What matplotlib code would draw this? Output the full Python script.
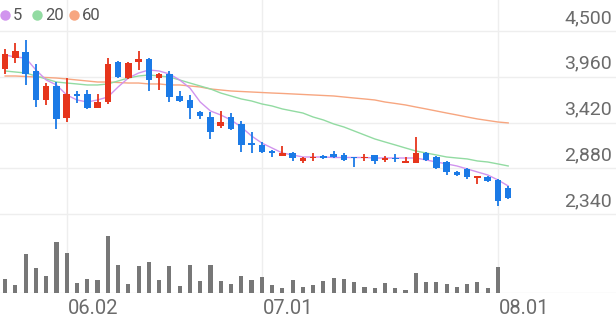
import matplotlib
matplotlib.use("Agg")
import matplotlib.pyplot as plt
import matplotlib.transforms as mtransforms
from matplotlib.lines import Line2D

plt.rcParams['font.family'] = ['Roboto', 'DejaVu Sans']

# ---------------- data ----------------
opens = [4052, 4181, 4252, 4028, 3686, 3851, 3473, 3757, 3757, 3591,
         3662, 4134, 3945, 4134, 4170, 3945, 3993, 3733, 3686, 3544,
         3485, 3379, 3485, 3403, 3178, 3155, 3084, 3025, 3060, 2966,
         3001, 3025, 3049, 3037, 3013, 3001, 3037, 2978, 3001, 2942,
         2942, 3060, 3013, 2954, 2836, 2872, 2765, 2777, 2742, 2647]
highs = [4288, 4358, 4394, 4111, 3886, 3898, 3945, 3792, 3804, 3757,
         4181, 4146, 4134, 4264, 4181, 4004, 4028, 3792, 3745, 3556,
         3544, 3556, 3532, 3438, 3308, 3190, 3096, 3143, 3072, 3013,
         3060, 3037, 3084, 3060, 3013, 3049, 3037, 3025, 3049, 3013,
         3249, 3072, 3025, 2966, 2848, 2883, 2789, 2789, 2754, 2671]
lows = [3993, 4122, 3863, 3603, 3627, 3344, 3426, 3650, 3580, 3591,
        3639, 3945, 3933, 4040, 3792, 3804, 3662, 3662, 3462, 3462,
        3226, 3355, 3332, 3072, 3060, 3060, 3013, 3025, 2966, 2942,
        2966, 2990, 3001, 2966, 2895, 2966, 2931, 2954, 2954, 2942,
        2942, 2966, 2872, 2801, 2789, 2754, 2695, 2718, 2435, 2517]
closes = [4229, 4264, 3993, 3686, 3851, 3462, 3757, 3733, 3591, 3662,
          4111, 3957, 4122, 4170, 3922, 3993, 3721, 3674, 3591, 3497,
          3308, 3426, 3344, 3155, 3160, 3072, 3060, 3060, 3001, 3001,
          3013, 3001, 3013, 2978, 3001, 3013, 2966, 3001, 2984, 2966,
          3060, 2978, 2883, 2836, 2801, 2777, 2789, 2730, 2494, 2529]
ma5 = [4217, 4193, 4181, 4040, 3922, 3863, 3745, 3686, 3662, 3686,
       3721, 3839, 3945, 4004, 4040, 4028, 3993, 3922, 3827, 3662,
       3556, 3509, 3450, 3367, 3261, 3178, 3119, 3060, 3037, 3013,
       3013, 3013, 3007, 3007, 3007, 3007, 3001, 3001, 3001, 3001,
       3001, 2978, 2954, 2931, 2907, 2872, 2836, 2801, 2742, 2671]
ma20 = [4028, 4016, 4004, 3969, 3934, 3898, 3886, 3875, 3863, 3863,
        3875, 3910, 3945, 3969, 3981, 3969, 3957, 3922, 3886, 3851,
        3816, 3768, 3733, 3698, 3674, 3639, 3615, 3580, 3556, 3532,
        3485, 3450, 3403, 3367, 3320, 3273, 3226, 3190, 3155, 3119,
        3084, 3060, 3037, 3013, 3001, 2990, 2966, 2954, 2931, 2907]
ma60 = [3969, 3969, 3963, 3957, 3951, 3945, 3934, 3922, 3910, 3898,
        3898, 3892, 3886, 3886, 3875, 3875, 3863, 3863, 3851, 3839,
        3816, 3804, 3792, 3786, 3780, 3774, 3768, 3763, 3757, 3751,
        3745, 3739, 3733, 3721, 3709, 3698, 3686, 3662, 3645, 3627,
        3603, 3580, 3556, 3532, 3509, 3485, 3462, 3444, 3426, 3415]
volumes = [140000, 83000, 390000, 250000, 173000, 510000, 400000, 100000, 143000, 133000,
           573000, 283000, 93000, 266000, 310000, 133000, 266000, 73000, 276000, 123000,
           276000, 116000, 93000, 166000, 126000, 160000, 80000, 50000, 126000, 60000,
           83000, 116000, 150000, 143000, 106000, 56000, 50000, 100000, 50000, 33000,
           200000, 106000, 106000, 93000, 60000, 93000, 113000, 46000, 260000, 0]
date_tick_idx = [6, 25, 48]
date_labels = ['06.02', '07.01', '08.01']
price_ticks = [2340, 2880, 3420, 3960, 4500]
price_labels = ['2,340', '2,880', '3,420', '3,960', '4,500']
legend_labels = ['5', '20', '60']

# ---------------- style ----------------
RED = '#e6351c'
BLUE = '#1b7ae6'
C_MA = ['#d194ee', '#92dba2', '#f7a680']
GRID = '#eeeeee'
TXT = '#6b6b6b'

W, H = 616, 321
fig = plt.figure(figsize=(W / 100, H / 100), dpi=100)
ax = fig.add_axes([0, (H - 214) / H, 1, 214 / H])
axv = fig.add_axes([0, (H - 293) / H, 1, 79 / H])

n = len(closes)
xs = list(range(n))
XMIN, XMAX = -0.5, 59.5

for a in (ax, axv):
    a.set_xlim(XMIN, XMAX)
    for s in a.spines.values():
        s.set_visible(False)
    a.tick_params(length=0, labelleft=False, labelright=False, labelbottom=False)
    a.set_xticks(date_tick_idx)
    a.grid(True, axis='x', color=GRID, lw=1.0, zorder=0)

# price panel
ax.set_ylim(2340, 4866)
ax.set_yticks(price_ticks)
ax.grid(True, axis='y', color=GRID, lw=1.0, zorder=0)
ax.set_axisbelow(True)

ax.plot(xs, ma60, color=C_MA[2], lw=1.0, zorder=2)
ax.plot(xs, ma20, color=C_MA[1], lw=1.0, zorder=2)
ax.plot(xs, ma5, color=C_MA[0], lw=1.0, zorder=2)

min_h = 10
for i in range(n):
    o, h, l, c = opens[i], highs[i], lows[i], closes[i]
    col = RED if c >= o else BLUE
    ax.vlines(i, l, h, color=col, lw=1.3, zorder=3)
    bottom = min(o, c)
    height = max(abs(c - o), min_h)
    ax.bar(i, height, bottom=bottom, width=0.64, color=col, zorder=4, linewidth=0)

# price labels
off = mtransforms.ScaledTranslation(-4 / 100, 13 / 100, fig.dpi_scale_trans)
tr = mtransforms.blended_transform_factory(ax.transAxes, ax.transData) + off
for v, lab in zip(price_ticks, price_labels):
    ax.text(1.0, v, lab, transform=tr, ha='right', va='center',
            fontsize=14, color=TXT, clip_on=False)

# volume panel
axv.set_ylim(0, 790000)
axv.set_yticks([0, 790000])
axv.grid(True, axis='y', color=GRID, lw=1.0, zorder=0)
axv.set_axisbelow(True)
axv.bar(xs, volumes, width=0.4, color='#777777', zorder=3, linewidth=0)

# date labels
offd = mtransforms.ScaledTranslation(1 / 100, -16 / 100, fig.dpi_scale_trans)
trd = mtransforms.blended_transform_factory(axv.transData, axv.transAxes) + offd
for xi, lab in zip(date_tick_idx, date_labels):
    axv.text(xi, 0, lab, transform=trd, ha='left', va='center',
             fontsize=14.5, color=TXT, clip_on=False)

# legend
ly = 1 - 15 / H
lx_marker = [5, 37, 74]
lx_text = [13, 45, 82]
for mx, tx, lab, col in zip(lx_marker, lx_text, legend_labels, C_MA):
    fig.add_artist(Line2D([mx / W], [ly], marker='o', markersize=7.5,
                          color=col, markeredgewidth=0, linestyle='none',
                          transform=fig.transFigure))
    fig.text(tx / W, ly, lab, ha='left', va='center', fontsize=12, color='#555555')

fig.savefig('out.png', dpi=100)
